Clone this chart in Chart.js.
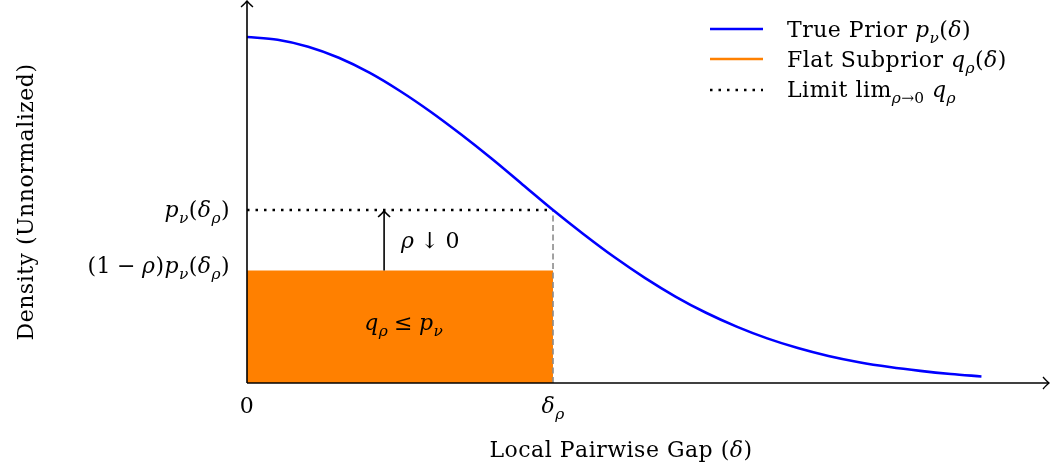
<!DOCTYPE html>
<html>
<head>
<meta charset="utf-8">
<script src="https://cdn.jsdelivr.net/npm/chart.js@4.4.1/dist/chart.umd.min.js"></script>
<style>
html,body{margin:0;padding:0;background:#fff;}
canvas{display:block;}
</style>
</head>
<body>
<canvas id="c" width="1051" height="469"></canvas>
<script>
// ---- data ----
const xVals = [0, 0.125, 0.25, 0.375, 0.5, 0.625, 0.75, 0.875, 1.0, 1.125, 1.25, 1.375, 1.5,
               1.625, 1.75, 1.875, 2.0, 2.125, 2.25, 2.375, 2.5, 2.625, 2.75, 2.875, 3.0];
const priorVals = [1.000, 0.992, 0.972, 0.940, 0.897, 0.844, 0.784, 0.718, 0.648, 0.574, 0.500, 0.430, 0.364,
                   0.304, 0.250, 0.203, 0.163, 0.129, 0.101, 0.078, 0.060, 0.046, 0.035, 0.026, 0.019];
const deltaRho = 1.25;          // location of delta_rho on x axis
const priorAtDelta = 0.50;      // p_nu(delta_rho)
const subpriorVal = 0.325;      // (1-rho) p_nu(delta_rho)
const arrowX = 0.56;            // x position of the rho -> 0 arrow
const xMax = 3.28, yMax = 1.107;

const FAM = '"DejaVu Serif", "Liberation Serif", serif';
const FS = 22;
const SP = 0.5;   // extra letter spacing
const MS = '\u2005'; // math spacing around operators
const BLUE = '#0000ff', ORANGE = '#ff8000';

function pts(xs, ys){ return xs.map((x,i)=>({x:x, y:ys[i]})); }

// rich text: segs = [text, italic?, sub?]
function rich(ctx, segs, x, y, size, align){
  const parts = segs.map(s=>{
    const sz = s[2] ? size*0.7 : size;
    const font = (s[1] ? 'italic ' : '') + sz + 'px ' + FAM;
    ctx.font = font;
    const sp = s[2] ? SP*0.6 : SP;
    const chars = Array.from(s[0]).map(ch=>({ch:ch, w:ctx.measureText(ch).width + sp}));
    return {font:font, chars:chars, w:chars.reduce((a,c)=>a+c.w,0), dy: s[2] ? size*0.28 : 0};
  });
  const W = parts.reduce((a,p)=>a+p.w,0);
  let cx = align==='right' ? x-W : align==='center' ? x-W/2 : x;
  ctx.textBaseline = 'alphabetic';
  ctx.textAlign = 'left';
  ctx.fillStyle = '#000';
  parts.forEach(p=>{ ctx.font=p.font; p.chars.forEach(c=>{ ctx.fillText(c.ch, cx, y+p.dy); cx+=c.w; }); });
}

function arrowHead(ctx, x, y, dir){ // open arrowhead
  ctx.save();
  ctx.translate(x,y);
  if(dir==='right') ctx.rotate(Math.PI/2);
  ctx.beginPath();
  ctx.moveTo(-6,6); ctx.quadraticCurveTo(-1.5,2,0,0); ctx.quadraticCurveTo(1.5,2,6,6);
  ctx.stroke();
  ctx.restore();
}

const decor = {
  id:'decor',
  afterDatasetsDraw(chart){
    const ctx = chart.ctx, xs = chart.scales.x, ys = chart.scales.y;
    const X = v=>xs.getPixelForValue(v), Y = v=>ys.getPixelForValue(v);
    ctx.save();
    // axes
    ctx.strokeStyle='#000'; ctx.lineWidth=1.6; ctx.lineCap='butt';
    ctx.beginPath(); ctx.moveTo(X(0), Y(0)); ctx.lineTo(X(xMax)-1, Y(0)); ctx.stroke();
    ctx.beginPath(); ctx.moveTo(X(0), Y(0)); ctx.lineTo(X(0), Y(yMax)+1); ctx.stroke();
    ctx.lineWidth=1.3;
    arrowHead(ctx, X(xMax)-1, Y(0), 'right');
    arrowHead(ctx, X(0), Y(yMax)+1, 'up');
    ctx.lineWidth=1.6;
    arrowHead(ctx, X(arrowX), Y(priorAtDelta)+1, 'up');

    // tick labels
    rich(ctx, [['0',0,0]], X(0), Y(0)+30, FS, 'center');
    rich(ctx, [['δ',1,0],['ρ',1,1]], X(deltaRho), Y(0)+30, FS, 'center');
    rich(ctx, [['p',1,0],['ν',1,1],['(',0,0],['δ',1,0],['ρ',1,1],[')',0,0]], 230, Y(priorAtDelta)+7, FS, 'right');
    rich(ctx, [['(1'+MS+'−'+MS,0,0],['ρ',1,0],[')',0,0],['p',1,0],['ν',1,1],['(',0,0],['δ',1,0],['ρ',1,1],[')',0,0]], 230, Y(subpriorVal)+2, FS, 'right');

    // annotations
    rich(ctx, [['ρ',1,0],[MS+'↓'+MS+'0',0,0]], X(arrowX)+17, 248, FS, 'left');
    rich(ctx, [['q',1,0],['ρ',1,1],[MS+'≤'+MS,0,0],['p',1,0],['ν',1,1]], X(0.64), 330, FS, 'center');

    // axis titles
    rich(ctx, [['Local Pairwise Gap (',0,0],['δ',1,0],[')',0,0]], 621, 457, FS, 'center');
    ctx.save(); ctx.translate(33, 202); ctx.rotate(-Math.PI/2);
    rich(ctx, [['Density (Unnormalized)',0,0]], 0, 0, FS, 'center');
    ctx.restore();

    // legend
    const lx0=710, lx1=763, tx=787;
    const rows=[29,59,90];
    ctx.lineWidth=2.5;
    ctx.strokeStyle=BLUE; ctx.beginPath(); ctx.moveTo(lx0,rows[0]); ctx.lineTo(lx1,rows[0]); ctx.stroke();
    ctx.strokeStyle=ORANGE; ctx.beginPath(); ctx.moveTo(lx0,rows[1]); ctx.lineTo(lx1,rows[1]); ctx.stroke();
    ctx.strokeStyle='#000'; ctx.setLineDash([2.5,6]); ctx.beginPath(); ctx.moveTo(lx0,rows[2]); ctx.lineTo(lx1,rows[2]); ctx.stroke(); ctx.setLineDash([]);
    rich(ctx, [['True Prior ',0,0],['p',1,0],['ν',1,1],['(',0,0],['δ',1,0],[')',0,0]], tx, rows[0]+8, FS, 'left');
    rich(ctx, [['Flat Subprior ',0,0],['q',1,0],['ρ',1,1],['(',0,0],['δ',1,0],[')',0,0]], tx, rows[1]+8, FS, 'left');
    rich(ctx, [['Limit lim',0,0],['ρ',1,1],['→0',0,1],[' ',0,0],['q',1,0],['ρ',1,1]], tx, rows[2]+7, FS, 'left');
    ctx.restore();
  }
};

new Chart(document.getElementById('c'), {
  type:'line',
  data:{
    datasets:[
      { label:'Flat Subprior', data:[{x:0,y:subpriorVal},{x:deltaRho,y:subpriorVal}],
        borderColor:ORANGE, backgroundColor:ORANGE, borderWidth:0, fill:'origin', pointRadius:0, order:5 },
      { label:'True Prior', data:pts(xVals, priorVals), borderColor:BLUE, borderWidth:2.6,
        cubicInterpolationMode:'monotone', pointRadius:0, fill:false, order:1 },
      { label:'Limit', data:[{x:0,y:priorAtDelta},{x:deltaRho,y:priorAtDelta}], borderColor:'#000',
        borderWidth:2.5, borderDash:[2.5,6], pointRadius:0, fill:false, order:2 },
      { label:'guide', data:[{x:deltaRho,y:0},{x:deltaRho,y:priorAtDelta}], borderColor:'#8c8c8c',
        borderWidth:1.6, borderDash:[6,3.5], pointRadius:0, fill:false, order:3 },
      { label:'arrow', data:[{x:arrowX,y:subpriorVal},{x:arrowX,y:priorAtDelta}], borderColor:'#000',
        borderWidth:1.6, pointRadius:0, fill:false, order:0 }
    ]
  },
  options:{
    responsive:false, animation:false, devicePixelRatio:1,
    layout:{padding:{left:247, top:0, right:1, bottom:86}},
    plugins:{legend:{display:false}, tooltip:{enabled:false}},
    scales:{
      x:{type:'linear', min:0, max:xMax, display:false},
      y:{type:'linear', min:0, max:yMax, display:false}
    },
    elements:{line:{tension:0}}
  },
  plugins:[decor]
});
</script>
</body>
</html>
